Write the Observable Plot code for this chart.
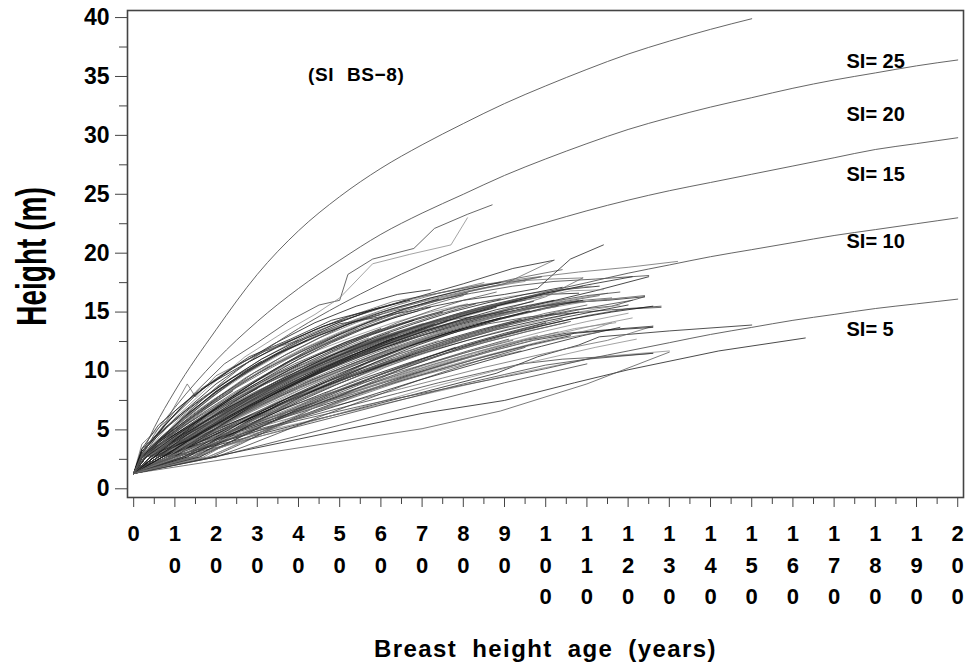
<!DOCTYPE html>
<html><head><meta charset="utf-8">
<script src="https://cdn.jsdelivr.net/npm/d3@7"></script>
<script src="https://cdn.jsdelivr.net/npm/@observablehq/plot@0.6"></script>
<style>body{margin:0;background:#fff}#chart{width:972px;height:670px}</style>
</head><body><div id="chart"></div>
<script>
// ---- data ----
const xTicks = [0,10,20,30,40,50,60,70,80,90,100,110,120,130,140,150,160,170,180,190,200];
const xMinor = [5,15,25,35,45,55,65,75,85,95,105,115,125,135,145,155,165,175,185,195];
const yTicks = [0,5,10,15,20,25,30,35,40];
const yMinor = [2.5,7.5,12.5,17.5,22.5,27.5,32.5,37.5];

const siAges = [0,5,10,20,30,40,50,60,70,80,90,100,110,120,130,140,150,160,170,180,190,200];
const si25 = [1.3,5.2,8.3,13.5,18.2,21.9,24.8,27.2,29.2,31.0,32.7,34.2,35.6,36.9,38.0,39.0,39.9];
const si20 = [1.3,4.6,6.9,10.9,14.2,17.0,19.4,21.6,23.4,25.0,26.6,28.0,29.3,30.5,31.5,32.4,33.2,34.0,34.7,35.3,35.9,36.4];
const si15 = [1.3,3.8,5.4,8.6,11.3,13.6,15.6,17.4,19.0,20.4,21.6,22.6,23.6,24.5,25.3,26.0,26.7,27.4,28.1,28.8,29.3,29.8];
const si10 = [1.3,2.9,4.0,6.2,8.0,9.7,11.1,12.5,13.7,14.8,15.8,16.7,17.5,18.3,19.0,19.7,20.3,20.9,21.5,22.0,22.5,23.0];
const si5  = [1.3,2.1,2.7,3.9,4.9,5.8,6.6,7.4,8.1,8.8,9.5,10.2,11.0,11.7,12.4,13.1,13.7,14.3,14.8,15.3,15.7,16.1];

const siLabels = ["SI= 25","SI= 20","SI= 15","SI= 10","SI= 5"];
const siLabelY = [36.3, 31.8, 26.7, 21.0, 13.5];
const siLabelAge = 173;
const note = "(SI BS\u22128)";
const noteAge = 54, noteHeight = 35.1;
const xTitle = "Breast height age (years)";
const yTitle = "Height (m)";

const breastHeight = 1.3; // every tree starts at breast height, age 0
// tree trajectories: "age,height" pairs after the breast-height start
const trees = [
"2,2.7 6,4.6 12,6.5 20,8.9 28,10.8 36,12.2 44,13.5 52,14.6 60,15.4",
"2,3.8 8,5.8 13,8.9 15,7.8 20,9.6 30,11.4 40,12.9 52,14.6 63,15.9 74,16.6 85,17.5",
"2,3.0 8,5.6 15,8.2 22,10.6 30,12.4 38,14.3 45,15.6 50,16.0 52,18.2 58,19.5 68,20.4 73,22.1 81,23.3 87,24.1",
"3,3.1 10,6.0 18,8.6 27,11.2 36,13.2 44,14.8 50,16.2 58,19.1 67,19.9 77,20.7 81,23.0",
"2,3.2 9,5.9 17,8.6 26,10.4 35,12.1 46,13.8 57,15.0 66,16.0",
"3,2.9 12,6.1 22,8.7 32,10.9 42,12.8 52,14.1 62,15.2 72,16.2 82,17.0 92,17.8 104,18.6",
"2,2.7 10,5.3 20,8.3 30,10.6 40,12.5 50,14.0 60,14.6 70,15.3 80,16.0 90,16.5 98,17.0 106,19.5 114,20.7",
"4,3.4 14,6.4 24,9.1 34,11.2 44,13.0 54,14.4 64,15.6 74,16.6 84,17.3 96,17.9 108,18.4 120,18.8 132,19.3",
"3,2.7 12,5.5 22,8.0 32,10.2 42,12.0 52,13.5 62,14.8 72,15.9 82,16.6 92,17.2 102,17.6 112,17.8 125,18.1",
"2,2.8 8,4.8 18,7.6 28,9.9 38,11.9 48,13.5 58,14.8 68,15.7 78,16.5 88,17.2 99,18.0",
"2,3.0 7,5.2 14,7.8 24,10.2 34,12.3 44,14.1 54,15.5 64,16.5 72,16.9",
"1.5,2.7 5,4.4 10,6.6 16,8.4 24,10.3 32,11.7 40,12.6",
"2,3.4 6,5.4 12,7.2 20,9.3 28,11.2 38,12.7 48,14.3 58,15.2 70,16.4 80,17.4 92,18.7 102,19.4",
"3,2.9 11,5.9 21,8.8 31,11.0 41,12.9 51,14.3 61,15.5 71,16.4 81,17.1 91,17.6 101,17.8 109,17.9",
"2,2.7 10,4.6 20,6.8 30,8.6 40,10.2 50,11.6 60,12.8 70,13.8",
"3,2.7 12,4.4 22,6.4 32,8.2 42,9.8 52,11.2 62,12.5 72,13.6 82,14.5 92,15.4",
"4,2.7 14,4.8 24,6.9 34,8.8 44,10.5 54,12.0 64,13.3 74,14.4 84,15.4 94,16.2 104,16.9 113,17.2",
"2,2.7 8,4.2 16,5.9 26,7.9 36,9.6 46,11.1 56,12.4 66,13.5",
"5,2.7 15,4.6 25,6.5 35,8.2 45,9.8 55,11.2 65,12.5 75,13.6 85,14.6 95,15.3 105,15.8 115,16.0 124,16.3",
"3,2.7 10,4.0 20,5.9 30,7.7 40,9.3 50,10.8 60,12.1 70,13.3 80,14.3 90,15.2 100,16.3 109,17.9",
"6,2.7 16,4.4 26,6.2 36,7.9 46,9.4 56,10.8 66,12.0 76,13.1 86,14.0 96,14.6 106,14.9 116,15.2 128,15.4",
"2,2.7 9,4.5 18,6.7 27,8.6 36,10.3 45,11.8 54,13.0 63,14.1 72,15.0 81,15.7",
"4,2.7 12,4.2 20,5.8 30,7.6 40,9.2 50,10.6 60,11.9 70,13.0 80,14.0 90,14.9 100,15.8 112,16.8 125,18.0",
"3,2.7 8,3.8 16,5.4 26,7.4 36,9.2 46,10.8 56,12.2 66,13.4 76,14.4 86,15.3",
"5,2.7 13,4.1 23,5.9 33,7.6 43,9.2 53,10.6 63,11.9 73,13.0 83,14.0 93,14.8 103,15.5",
"2,2.7 6,3.6 14,5.3 22,7.0 32,8.9 42,10.5 52,12.0 62,13.2",
"7,2.7 17,4.3 27,6.0 37,7.6 47,9.1 57,10.4 67,11.6 77,12.7 87,13.7 97,14.5 107,15.2 116,15.5 124,16.3",
"3,2.7 11,4.7 21,7.0 31,9.0 41,10.8 51,12.3 61,13.6 71,14.7 81,15.6 91,16.3 101,16.8 111,17.2",
"2,2.7 7,3.9 15,5.8 25,7.9 35,9.8 45,11.4 55,12.8 65,14.0 75,15.0",
"4,2.7 10,3.7 18,5.1 28,6.8 38,8.4 48,9.9 58,11.3 68,12.5 78,13.6 88,14.6 98,15.4 108,16.0",
"6,2.7 14,4.0 24,5.6 34,7.2 44,8.7 54,10.1 64,11.4 74,12.5 84,13.5 94,14.4",
"3,2.7 9,4.0 19,6.0 29,7.9 39,9.6 49,11.2 59,12.6 69,13.8 79,14.8 89,15.6 99,16.3",
"2,2.7 5,3.7 11,5.1 19,6.8 29,8.8 39,10.6 49,12.1 59,13.4 69,14.5 79,15.5 89,16.1",
"8,2.7 18,4.2 28,5.8 38,7.3 48,8.7 58,10.0 68,11.2 78,12.3 88,13.3 98,14.2 108,15.0 118,15.6",
"5,2.7 12,3.9 20,5.3 30,7.0 40,8.6 50,10.0 60,11.4 70,12.6 80,13.6",
"3,2.7 10,4.3 20,6.4 30,8.3 40,10.0 50,11.5 60,12.9 70,14.0 80,14.5 90,15.0 100,15.5 110,15.9 124,16.4",
"4,2.7 13,4.6 23,6.6 33,8.4 43,10.0 53,11.5 63,12.8",
"2,2.7 8,4.0 17,5.9 27,7.8 37,9.5 47,11.0 57,12.4 67,13.6 77,14.6 87,15.5 97,16.2",
"10,2.7 20,4.1 30,5.6 40,7.0 50,8.4 60,9.7 70,10.9 80,12.0 90,13.0 100,13.9 110,14.7 120,15.3 128,15.5",
"6,2.7 15,4.3 25,6.0 35,7.7 45,9.3 55,10.8 65,12.1 75,13.3 85,14.3 95,15.2 105,16.0 115,16.6",
"3,2.7 7,3.5 13,4.6 21,6.1 31,7.9 41,9.6 51,11.1 61,12.4 71,13.6",
"5,2.7 11,3.8 19,5.3 29,7.0 39,8.7 49,10.2 59,11.6 69,12.9 79,14.0 89,14.9 99,15.5 109,16.0 116,16.2",
"2,2.7 6,3.4 12,4.6 20,6.2 30,8.0 40,9.8 50,11.3 60,12.7 70,13.9 80,14.9 90,15.8 100,16.5 108,16.6",
"4,2.7 9,3.7 17,5.2 27,7.0 37,8.7 47,10.3 57,11.7 67,13.0",
"7,2.7 13,3.6 21,4.8 31,6.4 41,7.9 51,9.3 61,10.6 71,11.8 81,12.9 91,13.9 101,14.7 111,15.4 121,16.0",
"3,2.7 8,3.7 16,5.3 26,7.2 36,9.0 46,10.6 56,12.0 66,13.3 76,14.4 86,15.3 96,16.1 106,16.8 114,16.9",
"9,2.7 16,3.7 26,5.2 36,6.7 46,8.1 56,9.4 66,10.6 76,11.7 86,12.7 96,13.6 106,14.4 116,15.0 126,15.5",
"2,2.7 10,4.3 18,5.9 28,7.8 38,9.5 48,11.0",
"4,2.7 8,3.4 14,4.5 22,6.0 32,7.8 42,9.4 52,10.9 62,12.2 72,13.4 82,14.4 92,15.3 102,16.0",
"6,2.7 11,3.5 19,4.9 29,6.6 39,8.2 49,9.7 59,11.0 69,12.3 79,13.4 89,14.4 99,15.2",
"3,2.7 6,3.2 12,4.4 20,5.9 30,7.7 40,9.3 50,10.8 60,12.1 70,13.3 80,14.3 90,15.1 100,15.8 110,16.4 118,16.7",
"12,2.7 20,3.8 30,5.2 40,6.6 50,7.9 60,9.2 70,10.4 80,11.5 90,12.5 100,13.4 110,14.2 120,14.9",
"2,2.7 4,3.3 10,4.6 18,6.3 28,8.3 38,10.1 48,11.7 58,13.1 68,14.3",
"5,2.7 9,3.4 15,4.4 23,5.9 33,7.6 43,9.2 53,10.6 63,12.0 73,13.2 83,14.2 93,15.1 103,15.8 113,16.4",
"8,2.7 14,3.7 22,5.0 32,6.6 42,8.1 52,9.5 62,10.8 72,12.0 82,13.1 92,14.1 102,14.9",
"3,2.7 10,3.9 18,5.4 26,7.0 34,8.5 42,9.9 50,11.2 58,12.3",
"2,2.7 5,3.2 9,4.0 15,5.3 23,6.9 33,8.7 43,10.3 53,11.8 63,13.1 73,14.2 83,15.2 93,15.9",
"4,2.7 12,4.0 20,5.4 30,7.1 40,8.7 50,10.1 60,11.4 70,12.6 80,13.6 90,14.5 100,15.3 110,15.9 119,16.2",
"6,2.7 10,3.3 18,4.5 28,6.0 38,7.5 48,8.9 58,10.2 68,11.4 78,12.5 88,13.5 98,14.3 108,15.0",
"3,2.7 9,3.9 15,5.0 23,6.5 31,8.0 39,9.4 47,10.7 55,11.9 63,13.0 71,14.0 79,14.9 87,15.6 95,16.0",
"15,2.7 25,4.0 35,5.4 45,6.8 55,8.1 65,9.4 75,10.5 85,11.6 95,12.6 105,13.2 115,13.5 126,13.8",
"2,2.7 7,3.6 13,4.7 21,6.2 29,7.7 37,9.1 45,10.4 53,11.6 61,12.7 69,13.7 77,14.6 85,15.4 93,16.1 101,16.6 109,17.2",
"4,2.7 14,3.6 24,4.5 34,5.4 44,6.3 54,7.2 64,8.1 74,9.0 84,9.8 94,10.6 104,11.0 114,11.2 126,11.5",
"3,2.7 13,3.4 23,4.2 33,5.0 43,5.8 53,6.6 63,7.4 73,8.2 83,9.0 93,9.8 103,10.5 113,11.2 130,11.7",
"70,6.4 90,7.5 107,9.0 120,10.1 142,11.7 163,12.8",
"70,5.1 89,6.6 110,8.9 130,11.6",
"8,2.7 18,3.5 28,4.4 38,5.3 48,6.2 58,7.1 68,8.0 78,8.9 88,9.8 98,11.2 108,12.2 113,12.9 130,13.4 150,13.9",
"5,2.7 15,3.7 25,4.7 35,5.7 45,6.7 55,7.6 65,8.5 75,9.4 85,10.3 95,11.1 105,11.9 115,12.6 126,13.8",
"10,2.7 20,3.5 30,4.4 40,5.3 50,6.2 60,7.1 70,8.0 80,8.9 90,9.7 100,10.5 110,11.0 126,11.5",
"3,2.7 12,3.6 22,4.6 32,5.7 42,6.8 52,7.9 62,9.0 72,10.0 82,11.0 92,11.9 102,12.8 112,13.6 116,14.1",
"6,2.7 16,3.8 26,4.9 36,6.0 46,7.1 56,8.2 66,9.3 76,10.3 86,11.3 96,12.2 106,13.0",
"2,2.7 12,3.9 22,5.1 32,6.3 42,7.5 52,8.6 62,9.7 72,10.7 82,11.7 92,12.6",
"7,2.7 17,3.9 27,5.1 37,6.3 47,7.5 57,8.6 67,9.7 77,10.7 87,11.7 97,12.6 107,13.2 117,13.5 126,13.7",
"4,2.7 14,3.8 24,4.9 34,6.0 44,7.1 54,8.1 64,9.1 74,10.0 84,10.9 94,11.7",
"20,2.7 30,3.6 40,4.5 50,5.4 60,6.3 70,7.2 80,8.1 90,9.0 100,9.8 110,10.6",
"12,2.7 22,3.6 32,4.6 42,5.6 52,6.6 62,7.6 72,8.6 82,9.5 92,10.4 102,11.2 112,12.0 122,12.7",
"3,2.7 11,3.8 21,5.2 31,6.6 41,8.0 51,9.3 61,10.5 71,11.6 81,12.6 91,13.5 101,14.3 111,15.0 120,15.6",
"5,2.7 13,3.6 23,4.8 33,6.0 43,7.2 53,8.4 63,9.5 73,10.6 83,11.6 93,12.5 103,13.3",
"9,2.7 19,3.7 29,4.8 39,5.9 49,7.0 59,8.1 69,9.2 79,10.2 89,11.2 99,12.1 109,13.0 118,13.7",
"2,2.7 10,3.5 20,4.6 30,5.7 40,6.8 50,7.9 60,9.0 70,10.1 80,11.1",
"2,2.7 8,4.1 15,5.6 22,7.0 30,8.5",
"3,2.7 10,4.4 17,6.0 25,7.7 33,9.3 40,10.5",
"2,2.7 6,3.9 11,5.2 17,6.7 24,8.3",
"4,2.7 10,3.8 16,4.9 23,6.2 30,7.5 38,8.9 46,10.1",
"2,3.4 6,4.7 11,6.2 17,7.8 24,9.4 31,10.8",
"5,2.7 12,3.8 19,5.0 27,6.4 35,7.8",
"2,2.7 7,4.3 13,6.1 19,7.8 26,9.6 34,11.3 42,12.6",
"3,2.7 9,3.7 15,4.9 22,6.3 29,7.7 37,9.1 45,10.3 53,11.4",
"1.5,2.7 5,3.8 10,5.1 16,6.6 22,8.0",
"6,2.7 13,3.7 21,5.0 29,6.3 37,7.6 45,8.8 55,10.2",
"2,2.7 5,3.6 9,4.8 14,6.2 20,7.7 27,9.2 35,10.7 43,12.0 50,13.1",
"3,2.7 7,3.6 12,4.7 18,6.1 25,7.6 33,9.1 41,10.5 49,11.7 57,12.8",
"4,2.7 11,4.2 19,5.8 28,7.6 37,9.2 46,10.7 55,12.0 64,13.1",
"2,2.9 6,4.2 12,5.8 19,7.5 27,9.2 36,10.9 45,12.4 54,13.6",
"8,2.7 15,3.8 23,5.1 31,6.4 39,7.7 47,8.9 55,10.0 63,11.0",
"2,2.7 4,3.4 8,4.5 13,5.8 19,7.3 26,8.9 33,10.4",
"3,2.7 8,4.3 14,6.0 21,7.9 29,9.8 37,11.4 45,12.8 52,14.0 60,14.8",
"5,2.7 9,3.5 15,4.7 22,6.1 30,7.6 38,9.0 46,10.3 54,11.5 62,12.6 70,13.5",
"2,2.7 7,4.4 13,6.3 20,8.2 28,10.0 36,11.6 45,13.0 54,14.2 63,15.1 72,15.8 81,16.6",
"3,2.7 9,4.5 16,6.5 24,8.5 32,10.3 41,11.9 50,13.3 59,14.5 68,15.5 77,16.4 86,17.1 95,17.6",
"2,3.2 8,5.2 15,7.2 23,9.2 31,11.0 40,12.6 49,14.0 58,15.2 67,16.0",
"4,2.7 11,4.6 19,6.7 28,8.8 37,10.7 46,12.3 55,13.7 64,14.9 73,15.9 82,16.8 91,17.5 99,18.0",
"2,2.7 6,4.1 12,6.0 19,8.0 27,9.9 35,11.5 44,12.9 53,14.1 62,15.2 71,16.1 80,16.9 89,17.5",
"3,2.7 10,4.9 18,7.2 27,9.4 36,11.2 45,12.8 54,14.1 63,15.2 72,16.1 81,16.8 90,17.4 102,19.4",
"8,2.7 14,3.9 22,5.6 32,7.6 42,9.4 52,11.0 62,12.4 72,13.6 82,14.6",
"10,2.7 16,3.6 24,5.0 34,6.8 44,8.5 54,10.0 64,11.4 74,12.6",
"12,2.7 18,3.8 26,5.4 36,7.3 46,9.0 56,10.6 66,12.0 76,13.2 86,14.2 96,15.1",
"14,2.7 20,3.6 28,5.0 38,6.6 48,8.1 58,9.5 68,10.8 78,12.0",
"16,2.7 22,3.7 30,5.1 40,6.8 50,8.3 60,9.7 70,11.0 80,12.2 90,13.2 100,14.1",
"18,2.7 24,3.6 32,4.8 42,6.3 52,7.7 62,9.0 72,10.2 82,11.3",
"19,2.7 26,3.8 34,5.2 44,6.9 54,8.5 64,10.0 74,11.3 84,12.5 94,13.5 104,14.4",
"9,2.7 13,3.5 19,4.8 27,6.5 37,8.4 47,10.1 57,11.6 67,12.9",
"11,2.7 15,3.4 21,4.6 29,6.2 39,8.0 49,9.6 59,11.1 69,12.4 79,13.5 89,14.5",
"13,2.7 19,3.9 27,5.5 37,7.4 47,9.1 57,10.7 67,12.1",
"15,2.7 21,3.9 29,5.6 39,7.5 49,9.2 59,10.8 69,12.2 79,13.4 89,14.4 99,15.3 109,16.0",
"17,2.7 23,3.9 31,5.4 41,7.2 51,8.8 61,10.3 71,11.6 81,12.8 91,13.8",
"7,2.7 12,3.8 18,5.2 26,7.0 35,8.8 44,10.4 53,11.8 62,13.0",
"8,2.7 12,3.6 18,4.9 25,6.4 33,8.0 42,9.6 51,11.0 60,12.3 69,13.4 78,14.4 87,15.3",
"10,2.7 14,3.7 20,5.1 28,6.9 37,8.6 46,10.2 55,11.6 64,12.9 73,14.0",
"12,2.7 16,3.4 22,4.5 30,6.0 40,7.7 50,9.2 60,10.6 70,11.9 80,13.0 90,14.0 100,14.9 110,15.6",
"6,2.7 10,3.8 16,5.4 24,7.3 33,9.2 42,10.9 51,12.4 60,13.6",
"14,2.7 18,3.5 25,4.8 34,6.5 44,8.2 54,9.7 64,11.1 74,12.3 84,13.4",
"16,2.7 20,3.4 27,4.6 36,6.1 46,7.6 56,9.0 66,10.3 76,11.5 86,12.5 96,13.4 106,14.2",
"18,2.7 22,3.3 29,4.5 38,6.0 48,7.5 58,8.8 68,10.0 78,11.1 88,12.1 98,13.0",
"7,2.7 11,3.6 17,4.9 25,6.5 34,8.2 43,9.8 52,11.2 61,12.5 70,13.6 79,14.6 88,15.4",
"9,2.7 15,4.0 22,5.5 31,7.3 40,9.0 49,10.5 58,11.9 67,13.1 76,14.2",
"5,2.7 9,3.9 15,5.6 22,7.4 30,9.2 38,10.8 46,12.2 54,13.4 62,14.4",
"4,2.7 8,3.9 14,5.5 21,7.3 29,9.1 37,10.7 45,12.1 53,13.3 61,14.3 69,15.1",
"6,2.7 12,4.1 19,5.7 27,7.4 35,9.0 43,10.5 51,11.8 59,13.0 67,14.0 75,14.9 83,15.7",
"11,2.7 17,3.9 24,5.3 32,6.9 41,8.5 50,10.0 59,11.3 68,12.5 77,13.6 86,14.5 95,15.3 104,16.0",
"13,2.7 17,3.4 23,4.5 31,5.9 40,7.4 49,8.8 58,10.1 67,11.3",
"3,2.7 7,3.9 12,5.3 18,6.9 25,8.6 33,10.2 41,11.7 49,13.0 57,14.1 65,15.0",
"5,2.7 10,3.6 17,4.9 25,6.4 34,8.0 43,9.5 52,10.9 61,12.2 70,13.3 79,14.3 88,15.2 97,15.9",
"8,2.7 16,3.8 25,5.0 35,6.4 45,7.8 55,9.1 65,10.3 75,11.4 85,12.4 95,13.3 105,14.1",
"20,2.7 27,3.6 35,4.7 45,6.1 55,7.4 65,8.7 75,9.9 85,11.0 95,12.0",
"10,2.7 18,3.7 27,4.8 37,6.1 47,7.4 57,8.6 67,9.8 77,10.9 87,11.9 97,12.8 107,13.6 117,14.1",
"4,2.7 9,3.8 15,5.2 23,6.9 32,8.6 41,10.2 50,11.6 59,12.9 68,14.0 77,15.0 86,15.8 95,16.5 104,17.1",
"2,2.7 6,3.8 11,5.0 17,6.5 24,8.1 32,9.7 40,11.2 48,12.5 56,13.7 64,14.7 72,15.6 80,16.4",
"7,2.7 13,4.0 20,5.4 28,7.0 37,8.6 46,10.1 55,11.5 64,12.8 73,13.9 82,14.9 91,15.8 100,16.6 110,17.3 121,18.0",
"9,2.7 17,3.9 26,5.3 36,6.9 46,8.4 56,9.8 66,11.1 76,12.3 86,13.4 96,14.4 106,15.3",
"12,2.7 21,3.9 31,5.3 41,6.7 51,8.1 61,9.4 71,10.6 81,11.7 91,12.7",
"15,2.7 22,3.6 31,4.8 41,6.2 51,7.5 61,8.8 71,10.0 81,11.1 91,12.1 101,13.0 111,13.8 121,14.5",
"3,2.7 9,4.2 16,5.9 24,7.7 32,9.4 40,11.0 48,12.4 56,13.6 64,14.6 72,15.4",
"6,2.7 11,3.9 17,5.3 24,6.9 32,8.6 40,10.2 48,11.6 56,12.9 64,14.1 72,15.1 80,16.0 88,16.7",
"5,2.7 11,4.4 18,6.3 26,8.3 34,10.1 42,11.7 50,13.1 58,14.3 66,15.3 74,16.1",
"14,2.7 23,3.8 33,5.1 43,6.4 53,7.7 63,8.9 73,10.0 83,11.0 93,11.9 103,12.7 113,13.3"
];

// ---- tables built from the arrays ----
const siSeries = [si25, si20, si15, si10, si5];
const siRows = siSeries.flatMap((vals, k) => vals.map((h, j) => ({si: k, age: siAges[j], height: h})));
const treeRows = trees.flatMap((s, i) => [[0, breastHeight], ...s.split(" ").map(p => p.split(",").map(Number))]
  .map(([a, h]) => ({id: i, age: a, height: h})));
const treeShades = ["#1a1a1a", "#666", "#3a3a3a", "#888", "#111", "#505050"];
const siLabelRows = siLabels.map((t, i) => ({text: t, age: siLabelAge, height: siLabelY[i]}));

const font = "'Liberation Sans', Arial, Helvetica, sans-serif";
const chart = Plot.plot({
  width: 972, height: 670,
  marginTop: 10, marginBottom: 173, marginLeft: 127, marginRight: 9,
  x: {domain: [-1.5, 201.4], axis: null},
  y: {domain: [-0.74, 40.6], axis: null},
  color: {type: "identity"},
  style: {fontFamily: font, fontWeight: "bold", background: "#fff", color: "#000", overflow: "visible"},
  marks: [
    Plot.line(treeRows, {x: "age", y: "height", z: "id", stroke: d => treeShades[d.id % treeShades.length], strokeWidth: 0.9, strokeOpacity: 0.85}),
    Plot.line(siRows, {x: "age", y: "height", z: "si", stroke: "#555", strokeWidth: 0.9, curve: "monotone-x"}),
    Plot.frame({stroke: "#444", strokeWidth: 1.6}),
    Plot.axisY(yTicks, {anchor: "left", label: null, tickSize: 12, tickPadding: 6, fontSize: 23, fontWeight: "bold", stroke: "#444", fill: "#000"}),
    Plot.axisY(yMinor, {anchor: "left", label: null, tickSize: 8, tickFormat: () => "", stroke: "#444"}),
    Plot.axisX(xTicks, {anchor: "bottom", label: null, tickSize: 10, tickFormat: () => "", stroke: "#444"}),
    Plot.axisX(xMinor, {anchor: "bottom", label: null, tickSize: 7, tickFormat: () => "", stroke: "#444"}),
    Plot.text(xTicks, {x: d => d, frameAnchor: "bottom", dy: 21, lineAnchor: "top", lineHeight: 1.44,
      text: d => String(d).split("").join("\n"), fontSize: 22, fontWeight: "bold", fill: "#000"}),
    Plot.text([xTitle], {frameAnchor: "bottom", dy: 159, textAnchor: "middle", fontSize: 24, fontWeight: "bold", fill: "#000"}),
    Plot.text([yTitle], {frameAnchor: "left", dx: -95, dy: 2.5, textAnchor: "middle", rotate: -90, fontSize: 28, fontWeight: "bold", fill: "#000"}),
    Plot.text(siLabelRows, {x: "age", y: "height", text: "text", textAnchor: "start", fontSize: 20, fontWeight: "bold", fill: "#000"}),
    Plot.text([note], {x: () => noteAge, y: () => noteHeight, fontSize: 19, fontWeight: "bold", fill: "#000"})
  ]
});
document.getElementById("chart").appendChild(chart);
// typographic tweaks
chart.querySelectorAll("text").forEach(t => {
  const s = t.textContent;
  if (s === xTitle) { t.setAttribute("letter-spacing", "1.4"); t.setAttribute("word-spacing", "7"); }
  else if (s === note) { t.setAttribute("word-spacing", "7"); t.setAttribute("letter-spacing", "0.6"); }
  else if (s === yTitle) {
    const tr = t.getAttribute("transform") || "";
    t.setAttribute("transform", tr + " scale(1,1.5)");
  }
});
</script></body></html>
